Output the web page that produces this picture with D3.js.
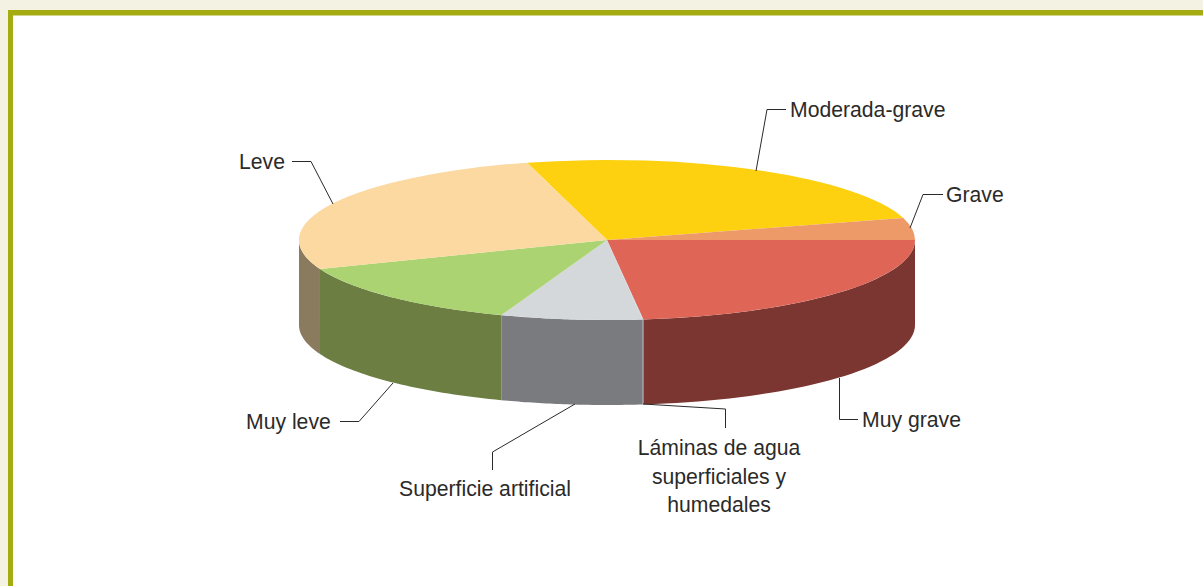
<!DOCTYPE html>
<html>
<head>
<meta charset="utf-8">
<script src="https://d3js.org/d3.v7.min.js"></script>
<style>
  html, body { margin: 0; padding: 0; background: #f4f3e3; }
  svg { display: block; }
  text { font-family: "Liberation Sans", Arial, sans-serif; font-size: 21.2px; fill: #2b2a29; }
</style>
</head>
<body>
<div id="chart"></div>
<script>
// slices, clockwise from the Superficie/Leve seam at the back of the pie
var categories = ["Moderada-grave", "Grave", "Muy grave", "Láminas de agua superficiales y humedales", "Superficie artificial", "Muy leve", "Leve"];
var values = [24.7, 4.4, 23.1, 0.05, 7.4, 13.5, 26.7];
var topColors = ["#fdd010", "#ee9a68", "#df6557", "#c9d3d8", "#d5d8db", "#abd372", "#fbd9a0"];
var sideColors = ["#a08308", "#96603f", "#7c3632", "#7a7b7f", "#7a7b7f", "#6c7e42", "#8a7a5e"];

var width = 1203;
var height = 586;
var cx = 607;
var cy = 240;
var rx = 308;
var ry = 80;
var depth = 85;
var startAngle = -15 * Math.PI / 180;

// label layout: leader polyline + text lines
var labels = [
  { lines: ["Moderada-grave"], x: 790, y: 117, anchor: "start", leader: [[786, 109.5], [767, 109.5], [756, 171]] },
  { lines: ["Grave"], x: 946, y: 202, anchor: "start", leader: [[943, 194.5], [923, 194.5], [910, 228]] },
  { lines: ["Muy grave"], x: 862, y: 427, anchor: "start", leader: [[858, 419.5], [839.5, 419.5], [839.5, 378]] },
  { lines: ["Láminas de agua", "superficiales y", "humedales"], x: 719, y: 455, anchor: "middle", leader: [[643, 404], [725.5, 409], [725.5, 428]] },
  { lines: ["Superficie artificial"], x: 399, y: 496, anchor: "start", leader: [[492.5, 470], [492.5, 452], [575, 404]] },
  { lines: ["Muy leve"], x: 246, y: 429, anchor: "start", leader: [[340, 421.5], [359, 421.5], [393, 383]] },
  { lines: ["Leve"], x: 239, y: 169, anchor: "start", leader: [[292, 161.5], [311, 161.5], [333, 204]] }
];

var svg = d3.select("#chart")
  .append("svg")
    .attr("width", width)
    .attr("height", height);

// olive frame, open to the right and the bottom
svg.append("rect")
  .attr("x", 8).attr("y", 10)
  .attr("width", width - 8).attr("height", height - 10)
  .attr("fill", "#a5ac12");
svg.append("rect")
  .attr("x", 13).attr("y", 15.5)
  .attr("width", width - 13).attr("height", height - 15.5)
  .attr("fill", "#ffffff");

var pie = d3.pie()
  .sort(null)
  .startAngle(startAngle)
  .endAngle(startAngle + 2 * Math.PI);

var slices = pie(values);

var arc = d3.arc()
  .innerRadius(0)
  .outerRadius(1);

var xScale = d3.scaleLinear().domain([-1, 1]).range([cx - rx, cx + rx]);
var yScale = d3.scaleLinear().domain([-1, 1]).range([cy - ry, cy + ry]);

// outer wall of one slice, only the part on the front half of the ellipse
function wallPath(d) {
  var a0 = Math.max(d.startAngle, Math.PI / 2);
  var a1 = Math.min(d.endAngle, 3 * Math.PI / 2);
  if (a1 <= a0) { return null; }
  var steps = d3.range(0, 41).map(function (i) { return a0 + (a1 - a0) * i / 40; });
  var upper = steps.map(function (a) { return [xScale(Math.sin(a)), yScale(-Math.cos(a))]; });
  var lower = steps.slice().reverse().map(function (a) { return [xScale(Math.sin(a)), yScale(-Math.cos(a)) + depth]; });
  return d3.line()(upper.concat(lower)) + "Z";
}

svg.append("g")
  .selectAll("path")
  .data(slices)
  .enter()
  .append("path")
    .attr("d", wallPath)
    .attr("fill", function (d, i) { return sideColors[i]; });

svg.append("g")
  .attr("transform", "translate(" + cx + "," + cy + ") scale(" + rx + "," + ry + ")")
  .selectAll("path")
  .data(slices)
  .enter()
  .append("path")
    .attr("d", arc)
    .attr("fill", function (d, i) { return topColors[i]; });

// leaders and text
var labelG = svg.append("g");

labelG.selectAll("polyline")
  .data(labels)
  .enter()
  .append("polyline")
    .attr("points", function (d) { return d.leader.join(" "); })
    .attr("fill", "none")
    .attr("stroke", "#2b2a29")
    .attr("stroke-width", 1);

labelG.selectAll("text")
  .data(labels)
  .enter()
  .append("text")
    .attr("x", function (d) { return d.x; })
    .attr("y", function (d) { return d.y; })
    .attr("text-anchor", function (d) { return d.anchor; })
    .selectAll("tspan")
    .data(function (d) { return d.lines.map(function (l) { return { text: l, x: d.x }; }); })
    .enter()
    .append("tspan")
      .attr("x", function (d) { return d.x; })
      .attr("dy", function (d, i) { return i ? 28.5 : 0; })
      .text(function (d) { return d.text; });
</script>
</body>
</html>
